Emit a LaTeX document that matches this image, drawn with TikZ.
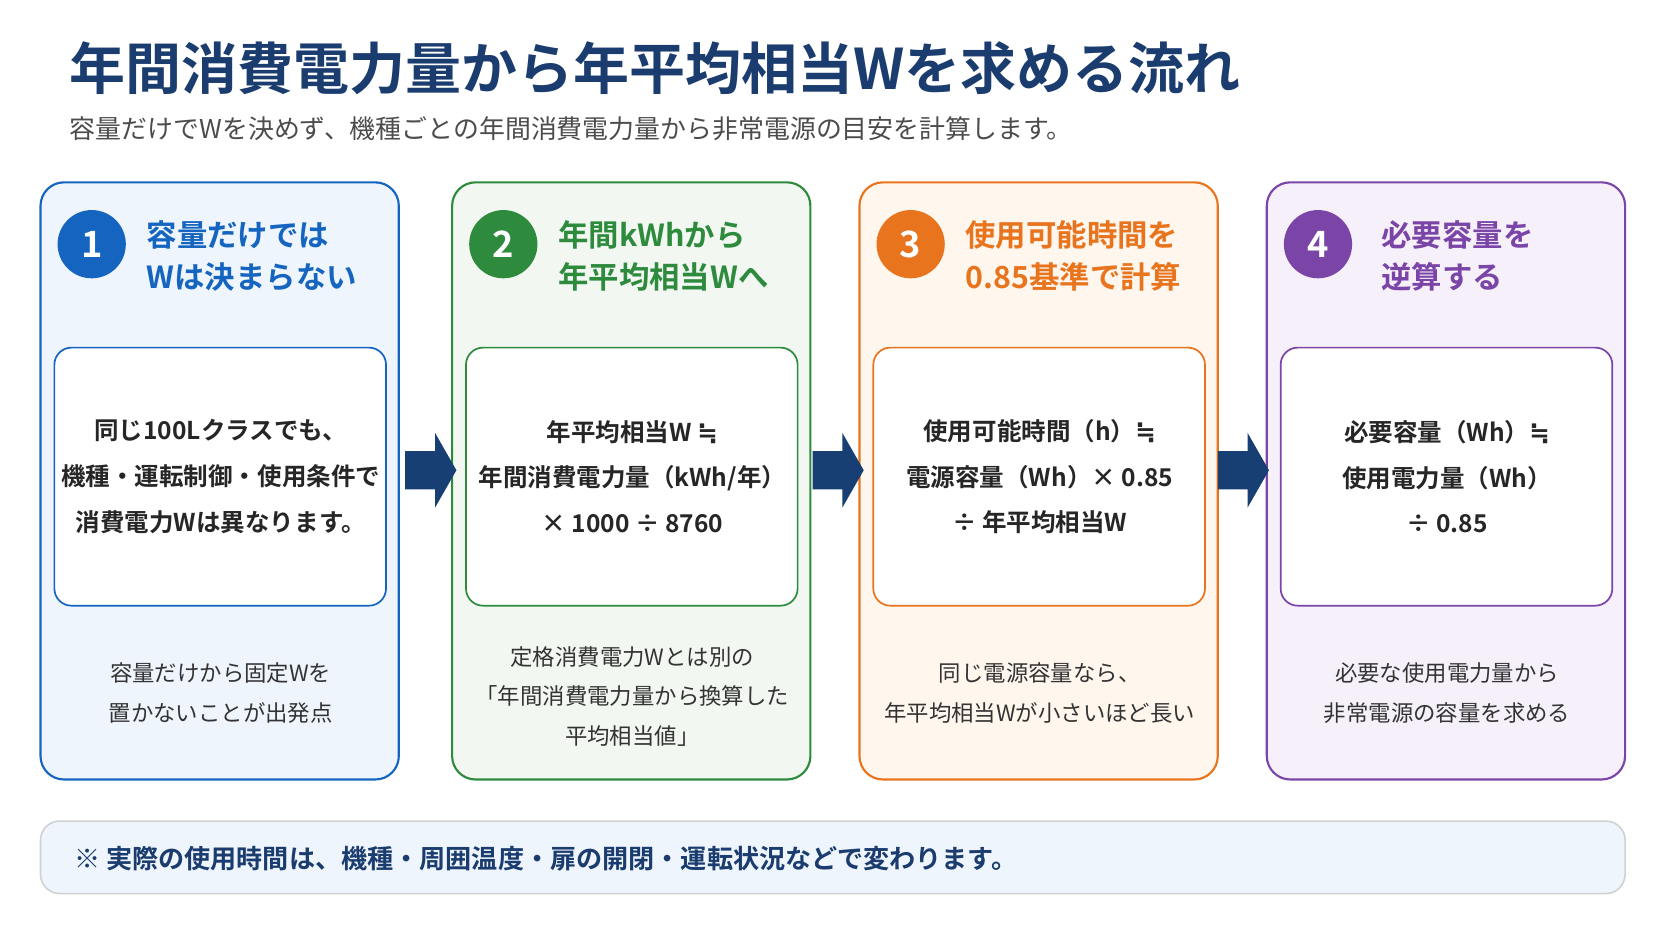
\documentclass[tikz,border=0pt]{standalone}
\usepackage{fontspec}
\setmainfont{Noto Sans CJK JP}[BoldFont={Noto Sans CJK JP Bold}]
\newfontfamily\dv{DejaVu Sans}
\newcommand{\apeq}{{\dv ≒}}
\definecolor{navy}{HTML}{1B3C6E}
\definecolor{cA}{HTML}{1565C0}\definecolor{fA}{HTML}{EEF5FD}
\definecolor{cB}{HTML}{2E8B3E}\definecolor{fB}{HTML}{F2F8F1}
\definecolor{cC}{HTML}{E8741E}\definecolor{fC}{HTML}{FFF6EE}
\definecolor{cD}{HTML}{7B45A8}\definecolor{fD}{HTML}{F6F0FA}
\definecolor{arr}{HTML}{173F73}
\begin{document}
\begin{tikzpicture}[x=1pt,y=-1pt,
 card/.style={draw=#1,line width=2pt,rounded corners=22pt},
 inner/.style={draw=#1,line width=1.6pt,fill=white,rounded corners=16pt},
 num/.style={circle,fill=#1,minimum size=64pt,inner sep=0pt,text=white,font=\fontsize{34}{34}\selectfont\bfseries},
 head/.style={anchor=west,align=left,text=#1,font=\fontsize{28.5}{39}\selectfont\bfseries},
 body/.style={align=center,text=black!85,font=\fontsize{23}{43}\selectfont\bfseries},
 note/.style={align=center,text=black!80,font=\fontsize{21}{37}\selectfont},
 arrw/.style={fill=arr}]
\useasboundingbox (0,0) rectangle (1568,882);
\node[anchor=west,text=navy,font=\fontsize{52.5}{52}\selectfont\bfseries] (title) at (62,64) {年間消費電力量から年平均相当Wを求める流れ};
\node[anchor=west,text=black!70,font=\fontsize{24.3}{24}\selectfont] (sub) at (62,121) {容量だけでWを決めず、機種ごとの年間消費電力量から非常電源の目安を計算します。};
\foreach \x/\c/\f/\n in {38/cA/fA/1,424/cB/fB/2,806/cC/fC/3,1188/cD/fD/4}{
 \draw[card=\c,fill=\f] (\x,171) rectangle ++(336,560);
 \draw[inner=\c] (\x+13,326) rectangle ++(311,242);
 \node[num=\c] (n\n) at (\x+48,229) {\n};
}
\node[head=cA] (h1) at (134,240) {容量だけでは\\Wは決まらない};
\node[head=cB] (h2) at (520,240) {年間kWhから\\年平均相当Wへ};
\node[head=cC] (h3) at (902,240) {使用可能時間を\\0.85基準で計算};
\node[head=cD] (h4) at (1292,240) {必要容量を\\逆算する};
\node[body] (b1) at (207,447) {同じ100Lクラスでも、\\機種・運転制御・使用条件で\\消費電力Wは異なります。};
\node[body] (b2) at (593,447) {年平均相当W \apeq\\年間消費電力量（kWh/年）\\× 1000 ÷ 8760};
\node[body] (b3) at (975,447) {使用可能時間（h）\apeq\\電源容量（Wh）× 0.85\\÷ 年平均相当W};
\node[body] (b4) at (1357,447) {必要容量（Wh）\apeq\\使用電力量（Wh）\\÷ 0.85};
\node[note] (t1) at (207,650) {容量だけから固定Wを\\置かないことが出発点};
\node[note] (t2) at (593,653) {定格消費電力Wとは別の\\「年間消費電力量から換算した\\平均相当値」};
\node[note] (t3) at (975,650) {同じ電源容量なら、\\年平均相当Wが小さいほど長い};
\node[note] (t4) at (1357,650) {必要な使用電力量から\\非常電源の容量を求める};
\foreach \x in {380,762,1142}{
 \fill[arrw] (\x,423) -- (\x+28,423) -- (\x+28,406) -- (\x+48,441) -- (\x+28,476) -- (\x+28,459) -- (\x,459) -- cycle;
}
\draw[draw=black!18,line width=1.5pt,fill=fA,rounded corners=18pt] (38,770) rectangle (1524,838);
\node[anchor=west,text=navy,font=\fontsize{24.5}{24}\selectfont\bfseries] (foot) at (66,805) {※ 実際の使用時間は、機種・周囲温度・扉の開閉・運転状況などで変わります。};
\end{tikzpicture}
\end{document}
